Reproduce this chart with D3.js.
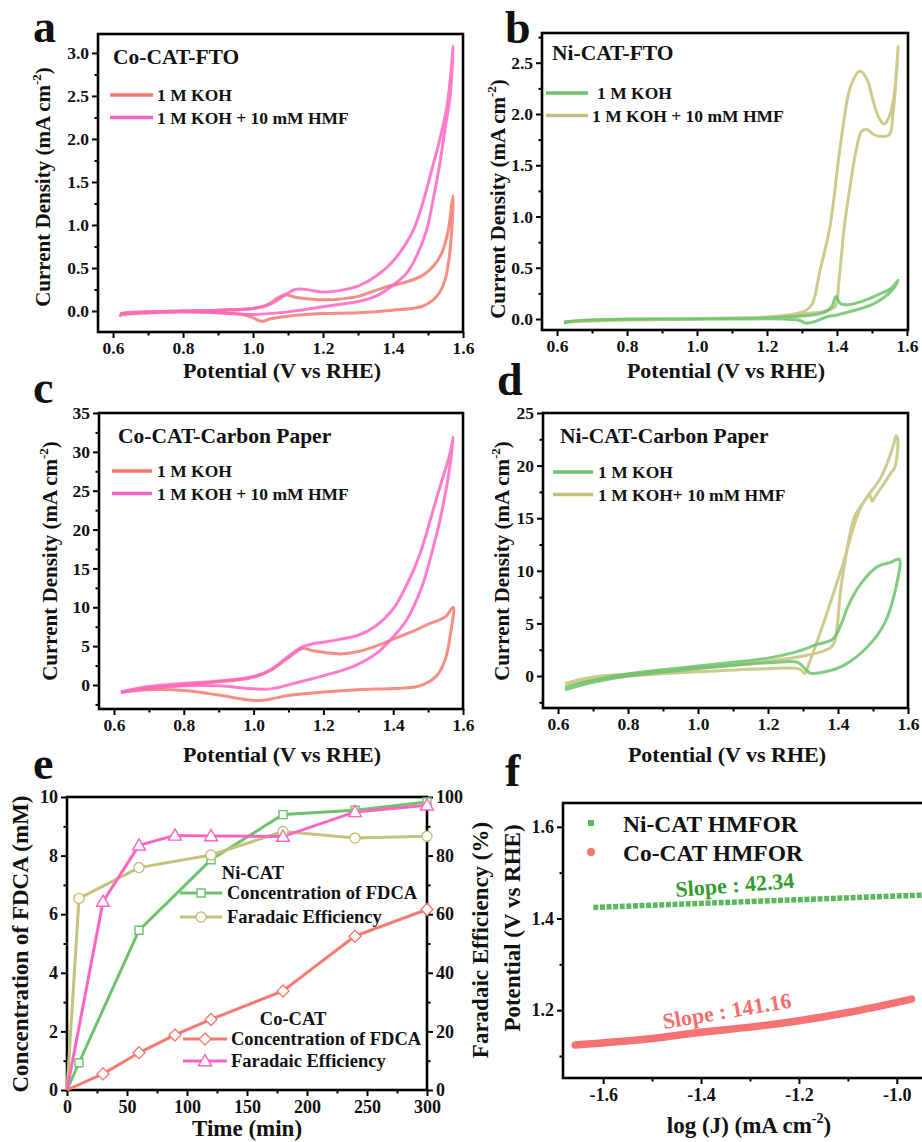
<!DOCTYPE html>
<html>
<head>
<meta charset="utf-8">
<script src="https://cdn.jsdelivr.net/npm/d3@7"></script>
<style>
  body { margin: 0; background: #fff; }
</style>
</head>
<body>
<svg id="fig" width="922" height="1142"></svg>
<script>
// ---- panel a: Co-CAT-FTO (V, mA cm-2) ----
const aKohFwd = [[0.62,-0.07],[0.625,-0.03],[0.7,-0.01],[0.8,0.0],[0.9,0.01],[1.0,0.03],[1.04,0.07],[1.07,0.15],[1.09,0.19],[1.12,0.16],[1.16,0.14],[1.2,0.13],[1.25,0.14],[1.3,0.17],[1.38,0.28],[1.44,0.34],[1.487,0.42],[1.515,0.52],[1.539,0.67],[1.558,0.94],[1.568,1.25],[1.572,1.34]];
const aKohRev = [[1.572,1.34],[1.568,0.95],[1.56,0.6],[1.55,0.38],[1.535,0.23],[1.515,0.13],[1.48,0.05],[1.4,0.01],[1.3,-0.02],[1.2,-0.03],[1.1,-0.06],[1.05,-0.09],[1.025,-0.12],[1.0,-0.08],[0.97,-0.04],[0.9,-0.02],[0.8,-0.01],[0.7,-0.02],[0.62,-0.04]];
const aHmfFwd = [[0.62,-0.04],[0.7,-0.01],[0.8,0.0],[0.9,0.01],[1.0,0.03],[1.05,0.08],[1.09,0.18],[1.12,0.25],[1.15,0.25],[1.2,0.22],[1.25,0.24],[1.3,0.29],[1.35,0.4],[1.4,0.58],[1.458,0.94],[1.516,1.72],[1.54,2.1],[1.555,2.4],[1.565,2.75],[1.572,3.08]];
const aHmfRev = [[1.572,3.08],[1.568,2.75],[1.563,2.49],[1.55,2.15],[1.534,1.72],[1.515,1.3],[1.496,0.94],[1.47,0.66],[1.439,0.44],[1.4,0.3],[1.35,0.17],[1.3,0.11],[1.2,0.05],[1.1,-0.01],[1.0,-0.04],[0.9,-0.02],[0.8,-0.01],[0.7,-0.02],[0.62,-0.03]];

// ---- panel b: Ni-CAT-FTO ----
const bKohFwd = [[0.62,-0.04],[0.65,-0.02],[0.8,0.0],[1.0,0.0],[1.2,0.01],[1.3,0.03],[1.36,0.06],[1.385,0.12],[1.397,0.22],[1.41,0.15],[1.43,0.14],[1.47,0.17],[1.52,0.24],[1.555,0.3],[1.575,0.38]];
const bKohRev = [[1.575,0.38],[1.56,0.29],[1.53,0.2],[1.5,0.14],[1.466,0.1],[1.4,0.04],[1.37,0.02],[1.34,-0.02],[1.313,-0.04],[1.29,-0.01],[1.25,0.0],[1.1,0.0],[0.9,0.0],[0.7,-0.01],[0.62,-0.03]];
const bHmfFwd = [[0.62,-0.03],[0.7,-0.01],[0.9,0.0],[1.1,0.01],[1.2,0.02],[1.28,0.05],[1.31,0.08],[1.33,0.15],[1.35,0.45],[1.38,0.9],[1.41,1.7],[1.44,2.28],[1.466,2.42],[1.487,2.33],[1.5,2.17],[1.52,1.96],[1.535,1.9],[1.55,1.98],[1.562,2.15],[1.575,2.66]];
const bHmfRev = [[1.575,2.66],[1.568,2.3],[1.56,2.0],[1.55,1.8],[1.53,1.78],[1.505,1.8],[1.485,1.85],[1.47,1.83],[1.455,1.65],[1.44,1.35],[1.42,0.87],[1.405,0.35],[1.395,0.12],[1.37,0.08],[1.3,0.05],[1.2,0.02],[1.0,0.0],[0.8,-0.01],[0.62,-0.03]];

// ---- panel c: Co-CAT-Carbon Paper ----
const cKohFwd = [[0.62,-1.0],[0.7,-0.4],[0.8,0.0],[0.9,0.4],[1.0,1.0],[1.05,1.9],[1.1,3.5],[1.14,4.7],[1.17,4.4],[1.2,4.2],[1.25,4.0],[1.3,4.3],[1.35,5.0],[1.4,5.9],[1.45,6.8],[1.5,7.8],[1.55,8.8],[1.572,10.0]];
const cKohRev = [[1.572,10.0],[1.565,6.8],[1.55,3.4],[1.53,1.5],[1.506,0.5],[1.47,-0.2],[1.4,-0.45],[1.3,-0.6],[1.2,-0.9],[1.1,-1.35],[1.05,-1.8],[1.02,-2.0],[0.98,-1.9],[0.9,-1.3],[0.8,-0.7],[0.7,-0.6],[0.62,-0.9]];
const cHmfFwd = [[0.62,-0.9],[0.7,-0.2],[0.8,0.2],[0.9,0.5],[1.0,1.1],[1.05,2.0],[1.1,3.7],[1.14,4.9],[1.17,5.3],[1.2,5.5],[1.25,5.9],[1.3,6.4],[1.35,7.6],[1.4,9.8],[1.44,13.0],[1.477,16.9],[1.506,21.2],[1.534,25.5],[1.563,29.8],[1.572,31.9]];
const cHmfRev = [[1.572,31.9],[1.565,29.0],[1.553,25.5],[1.534,21.2],[1.51,16.9],[1.482,12.6],[1.439,8.4],[1.4,6.2],[1.353,4.1],[1.286,2.4],[1.19,1.07],[1.115,0.2],[1.05,-0.5],[1.0,-0.5],[0.9,-0.1],[0.8,-0.1],[0.7,-0.5],[0.62,-0.9]];

// ---- panel d: Ni-CAT-Carbon Paper ----
const dKohFwd = [[0.62,-1.1],[0.7,-0.4],[0.8,0.2],[0.9,0.6],[1.0,0.95],[1.1,1.3],[1.2,1.7],[1.28,2.3],[1.34,3.0],[1.385,3.5],[1.41,5.0],[1.428,6.6],[1.466,8.8],[1.513,10.4],[1.55,10.8],[1.575,11.1]];
const dKohRev = [[1.575,11.1],[1.566,8.5],[1.533,5.0],[1.485,2.8],[1.418,1.04],[1.351,0.32],[1.32,0.28],[1.3,0.9],[1.285,1.3],[1.2,1.25],[1.0,0.7],[0.8,0.0],[0.7,-0.6],[0.62,-1.3]];
const dHmfFwd = [[0.62,-0.7],[0.7,-0.1],[0.8,0.2],[0.9,0.5],[1.0,0.8],[1.1,1.05],[1.2,1.4],[1.3,1.9],[1.36,2.4],[1.385,2.9],[1.41,8.8],[1.447,15.1],[1.475,16.6],[1.49,17.2],[1.498,16.6],[1.505,17.0],[1.53,18.2],[1.551,19.3],[1.562,19.8],[1.57,22.6]];
const dHmfRev = [[1.57,22.6],[1.565,22.8],[1.56,22.1],[1.523,18.9],[1.466,16.1],[1.409,10.1],[1.35,4.2],[1.315,1.0],[1.305,0.25],[1.29,0.65],[1.2,0.7],[1.0,0.4],[0.8,0.0],[0.7,-0.4],[0.62,-0.8]];

// ---- panel e: electrolysis vs time ----
const niTime = [0, 10, 60, 120, 180, 240, 300];
const niFDCA = [0, 0.93, 5.45, 7.86, 9.40, 9.55, 9.83];
const niFE   = [0, 65.4, 75.9, 80.2, 88.2, 86.0, 86.6];
const coTime = [0, 30, 60, 90, 120, 180, 240, 300];
const coFDCA = [0, 0.55, 1.27, 1.88, 2.41, 3.38, 5.25, 6.16];
const coFE   = [0, 64.3, 83.5, 86.9, 86.7, 86.5, 94.9, 97.2];

// ---- panel f: Tafel (log J, V) ----
const niTafel = [[-1.62,1.424],[-1.5,1.429],[-1.4,1.433],[-1.3,1.437],[-1.2,1.441],[-1.1,1.445],[-1.0,1.449],[-0.92,1.452]];
const coTafel = [[-1.657,1.124],[-1.5,1.138],[-1.4,1.152],[-1.3,1.163],[-1.2,1.177],[-1.1,1.195],[-1.03,1.21],[-0.97,1.224]];

const C_COKOH = '#f7796f', C_COHMF = '#ff64c3', C_NIKOH = '#6cc36c', C_NIHMF = '#c2c27a';
const SERIF = "'Liberation Serif', 'Times New Roman', Tinos, 'DejaVu Serif', serif";

const svg = d3.select('#fig');

function styleAxis(sel, fs) {
  sel.attr('font-family', null).attr('font-size', null);
  sel.select('.domain').remove();
  sel.selectAll('.tick line').attr('stroke', '#000').attr('stroke-width', 2);
  sel.selectAll('.tick text')
    .style('font-family', SERIF).style('font-weight', 'bold')
    .style('font-size', fs + 'px').attr('fill', '#111');
}

function addAxes(p) {
  const x = d3.scaleLinear().domain(p.xDom).range([p.l, p.r]);
  const y = d3.scaleLinear().domain(p.yDom).range([p.b, p.t]);
  const g = svg.append('g');
  g.append('g').attr('transform', `translate(0,${p.b})`)
    .call(d3.axisBottom(x).tickValues(p.xMin).tickSize(3.5).tickFormat(''))
    .call(s => styleAxis(s, p.fs));
  g.append('g').attr('transform', `translate(0,${p.b})`)
    .call(d3.axisBottom(x).tickValues(p.xMaj).tickSize(6).tickPadding(4).tickFormat(p.xFmt))
    .call(s => styleAxis(s, p.fs));
  g.append('g').attr('transform', `translate(${p.l},0)`)
    .call(d3.axisLeft(y).tickValues(p.yMin).tickSize(3.5).tickFormat(''))
    .call(s => styleAxis(s, p.fs));
  g.append('g').attr('transform', `translate(${p.l},0)`)
    .call(d3.axisLeft(y).tickValues(p.yMaj).tickSize(6).tickPadding(3).tickFormat(p.yFmt))
    .call(s => styleAxis(s, p.fs));
  g.append('rect').attr('x', p.l).attr('y', p.t)
    .attr('width', p.r - p.l).attr('height', p.b - p.t)
    .attr('fill', 'none').attr('stroke', '#000').attr('stroke-width', 2.6);
  return { x, y };
}

function txt(sel, fs) {
  return sel.style('font-family', SERIF).style('font-weight', 'bold')
    .style('font-size', fs + 'px').attr('fill', '#111');
}

function yTitle(x, y, fs, main, sup, tail) {
  const t = txt(svg.append('text')
    .attr('transform', `translate(${x},${y}) rotate(-90)`)
    .attr('text-anchor', 'middle'), fs);
  t.append('tspan').text(main);
  if (sup) {
    t.append('tspan').attr('dy', -fs * 0.45).style('font-size', (fs * 0.62) + 'px').text(sup);
    t.append('tspan').attr('dy', fs * 0.45).text(tail);
  }
  return t;
}

function label(x, y, s, fs, anchor) {
  return txt(svg.append('text').attr('x', x).attr('y', y)
    .attr('text-anchor', anchor || 'start'), fs).text(s);
}

const f1 = d => d.toFixed(1);
const f0 = d => d.toFixed(0);
const vMaj = [0.6, 0.8, 1.0, 1.2, 1.4, 1.6], vMin = [0.7, 0.9, 1.1, 1.3, 1.5];

function cvPanel(p) {
  const { x, y } = addAxes(Object.assign({ xDom: [0.557, 1.6], xMaj: vMaj, xMin: vMin, xFmt: f1, fs: 17.5 }, p));
  const line = d3.line().x(d => x(d[0])).y(d => y(d[1])).curve(d3.curveCatmullRom.alpha(0.5));
  p.curves.forEach(c => {
    svg.append('path').datum(c.fwd.concat(c.rev.slice(1)))
      .attr('d', line).attr('fill', 'none').attr('stroke', c.color)
      .attr('stroke-width', 3).attr('stroke-opacity', 0.85).attr('stroke-linejoin', 'round');
  });
  label(p.titleX, p.titleY, p.title, 21.5);
  p.legend.forEach((lg, i) => {
    const ly = p.legY + i * 22.5;
    svg.append('line').attr('x1', p.legX1).attr('x2', p.legX2).attr('y1', ly).attr('y2', ly)
      .attr('stroke', lg.color).attr('stroke-width', 3.5);
    label(lg.tx, ly + 6, lg.text, 17.5);
  });
  label(p.xtX, p.xtY, 'Potential (V vs RHE)', 22, 'middle');
  yTitle(p.ytX, p.ytY, 21, 'Current Density (mA cm', '-2', ')');
  label(p.letX, p.letY, p.letter, 46);
}

cvPanel({
  l: 98, r: 463, t: 34, b: 332, yDom: [-0.244, 3.22],
  yMaj: [0, 0.5, 1.0, 1.5, 2.0, 2.5, 3.0], yMin: [0.25, 0.75, 1.25, 1.75, 2.25, 2.75], yFmt: f1,
  curves: [{ fwd: aKohFwd, rev: aKohRev, color: C_COKOH }, { fwd: aHmfFwd, rev: aHmfRev, color: C_COHMF }],
  title: 'Co-CAT-FTO', titleX: 113, titleY: 64,
  legX1: 110, legX2: 153, legY: 95,
  legend: [{ text: '1 M KOH', color: C_COKOH, tx: 157 }, { text: '1 M KOH + 10 mM HMF', color: C_COHMF, tx: 157 }],
  xtX: 282, xtY: 378, ytX: 50, ytY: 187, letter: 'a', letX: 33, letY: 42
});

cvPanel({
  l: 542, r: 908, t: 33, b: 330, xDom: [0.557, 1.603], yDom: [-0.107, 2.79],
  yMaj: [0, 0.5, 1.0, 1.5, 2.0, 2.5], yMin: [0.25, 0.75, 1.25, 1.75, 2.25, 2.75], yFmt: f1,
  curves: [{ fwd: bHmfFwd, rev: bHmfRev, color: C_NIHMF }, { fwd: bKohFwd, rev: bKohRev, color: C_NIKOH }],
  title: 'Ni-CAT-FTO', titleX: 552, titleY: 60,
  legX1: 546, legX2: 588, legY: 93,
  legend: [{ text: '1 M KOH', color: C_NIKOH, tx: 597 }, { text: '1 M KOH + 10 mM HMF', color: C_NIHMF, tx: 592 }],
  xtX: 726, xtY: 378, ytX: 505, ytY: 199, letter: 'b', letX: 505, letY: 43
});

cvPanel({
  l: 99, r: 463, t: 413, b: 709, yDom: [-3.09, 35],
  yMaj: [0, 5, 10, 15, 20, 25, 30, 35], yMin: [-2.5, 2.5, 7.5, 12.5, 17.5, 22.5, 27.5, 32.5], yFmt: f0,
  curves: [{ fwd: cKohFwd, rev: cKohRev, color: C_COKOH }, { fwd: cHmfFwd, rev: cHmfRev, color: C_COHMF }],
  title: 'Co-CAT-Carbon Paper', titleX: 118, titleY: 443,
  legX1: 112, legX2: 152, legY: 471,
  legend: [{ text: '1 M KOH', color: C_COKOH, tx: 157 }, { text: '1 M KOH + 10 mM HMF', color: C_COHMF, tx: 157 }],
  xtX: 282, xtY: 762, ytX: 57, ytY: 561, letter: 'c', letX: 33, letY: 403
});

cvPanel({
  l: 543, r: 908, t: 413, b: 708, xDom: [0.557, 1.6], yDom: [-3.04, 25],
  yMaj: [0, 5, 10, 15, 20, 25], yMin: [-2.5, 2.5, 7.5, 12.5, 17.5, 22.5], yFmt: f0,
  curves: [{ fwd: dHmfFwd, rev: dHmfRev, color: C_NIHMF }, { fwd: dKohFwd, rev: dKohRev, color: C_NIKOH }],
  title: 'Ni-CAT-Carbon Paper', titleX: 560, titleY: 443,
  legX1: 553, legX2: 593, legY: 472,
  legend: [{ text: '1 M KOH', color: C_NIKOH, tx: 598 }, { text: '1 M KOH+ 10 mM HMF', color: C_NIHMF, tx: 598 }],
  xtX: 727, xtY: 762, ytX: 509, ytY: 561, letter: 'd', letX: 497, letY: 395
});

// ---- panel e ----
(function () {
  const p = { l: 67, r: 427, t: 797, b: 1090 };
  const { x, y } = addAxes(Object.assign({
    xDom: [0, 300], yDom: [0, 10], fs: 18,
    xMaj: [0, 50, 100, 150, 200, 250, 300], xMin: [25, 75, 125, 175, 225, 275], xFmt: f0,
    yMaj: [0, 2, 4, 6, 8, 10], yMin: [1, 3, 5, 7, 9], yFmt: f0
  }, p));
  const yR = d3.scaleLinear().domain([0, 100]).range([p.b, p.t]);
  svg.append('g').attr('transform', `translate(${p.r},0)`)
    .call(d3.axisRight(yR).tickValues([10, 30, 50, 70, 90]).tickSize(3.5).tickFormat(''))
    .call(s => styleAxis(s, 18));
  svg.append('g').attr('transform', `translate(${p.r},0)`)
    .call(d3.axisRight(yR).tickValues([0, 20, 40, 60, 80, 100]).tickSize(6).tickPadding(3).tickFormat(f0))
    .call(s => styleAxis(s, 18));

  const series = [
    { t: niTime, v: niFDCA, sy: y, color: C_NIKOH, sym: 'square' },
    { t: niTime, v: niFE, sy: yR, color: C_NIHMF, sym: 'circle' },
    { t: coTime, v: coFE, sy: yR, color: C_COHMF, sym: 'triangle' },
    { t: coTime, v: coFDCA, sy: y, color: C_COKOH, sym: 'diamond' }
  ];
  const symPath = {
    square: d3.symbol(d3.symbolSquare, 64)(),
    circle: d3.symbol(d3.symbolCircle, 80)(),
    triangle: d3.symbol(d3.symbolTriangle, 72)(),
    diamond: d3.symbol(d3.symbolSquare, 72)()
  };
  function marker(g, sym, cx, cy, color) {
    g.append('path').attr('d', symPath[sym])
      .attr('transform', `translate(${cx},${cy})` + (sym === 'diamond' ? ' rotate(45)' : '') + (sym === 'triangle' ? ' translate(0,1)' : ''))
      .attr('fill', '#fff').attr('stroke', color).attr('stroke-width', 1.4);
  }
  series.forEach(s => {
    const pts = s.t.map((t, i) => [t, s.v[i]]);
    svg.append('path').datum(pts)
      .attr('d', d3.line().x(d => x(d[0])).y(d => s.sy(d[1])))
      .attr('fill', 'none').attr('stroke', s.color).attr('stroke-width', 3);
  });
  series.forEach(s => {
    const g = svg.append('g');
    s.t.forEach((t, i) => { if (t > 0) marker(g, s.sym, x(t), s.sy(s.v[i]), s.color); });
  });

  // legends
  label(253, 879, 'Ni-CAT', 18.5, 'middle');
  const leg = [
    { y: 893, color: C_NIKOH, sym: 'square', text: 'Concentration of FDCA', x1: 180, x2: 222, tx: 227 },
    { y: 917, color: C_NIHMF, sym: 'circle', text: 'Faradaic Efficiency', x1: 180, x2: 222, tx: 227 },
    { y: 1039, color: C_COKOH, sym: 'diamond', text: 'Concentration of FDCA', x1: 183, x2: 227, tx: 231 },
    { y: 1061, color: C_COHMF, sym: 'triangle', text: 'Faradaic Efficiency', x1: 183, x2: 227, tx: 231 }
  ];
  const lg = svg.append('g');
  leg.forEach(d => {
    lg.append('line').attr('x1', d.x1).attr('x2', d.x2).attr('y1', d.y).attr('y2', d.y)
      .attr('stroke', d.color).attr('stroke-width', 3);
    marker(lg, d.sym, (d.x1 + d.x2) / 2, d.y, d.color);
    label(d.tx, d.y + 6, d.text, 18.5);
  });
  label(293, 1025, 'Co-CAT', 18.5, 'middle');

  label(247, 1136, 'Time (min)', 23, 'middle');
  yTitle(28, 944, 23, 'Concentration of FDCA (mM)');
  yTitle(488, 940, 23, 'Faradaic Efficiency (%)');
  label(33, 779, 'e', 46);
})();

// ---- panel f ----
(function () {
  const p = { l: 563, r: 935, t: 803, b: 1078 };
  const { x, y } = addAxes(Object.assign({
    xDom: [-1.682, -0.922], yDom: [1.052, 1.652], fs: 18,
    xMaj: [-1.6, -1.4, -1.2, -1.0], xMin: [-1.5, -1.3, -1.1], xFmt: f1,
    yMaj: [1.2, 1.4, 1.6], yMin: [1.1, 1.3, 1.5], yFmt: f1
  }, p));
  const line = d3.line().x(d => x(d[0])).y(d => y(d[1])).curve(d3.curveMonotoneX);
  svg.append('path').datum(niTafel).attr('d', line)
    .attr('fill', 'none').attr('stroke', '#5cb85c').attr('stroke-width', 5.5)
    .attr('stroke-dasharray', '5,1.6');
  svg.append('path').datum(coTafel).attr('d', line)
    .attr('fill', 'none').attr('stroke', '#f77272').attr('stroke-width', 7.5)
    .attr('stroke-linecap', 'round');

  svg.append('rect').attr('x', 588).attr('y', 820).attr('width', 6).attr('height', 6).attr('fill', '#5cb85c');
  svg.append('circle').attr('cx', 591).attr('cy', 852).attr('r', 4).attr('fill', '#f77272');
  label(623, 832, 'Ni-CAT HMFOR', 23.5);
  label(623, 861, 'Co-CAT HMFOR', 23.5);

  txt(svg.append('text').attr('transform', 'translate(676,897) rotate(-4.5)'), 22)
    .attr('fill', '#2f9d2f').text('Slope : 42.34');
  txt(svg.append('text').attr('transform', 'translate(664,1029) rotate(-9.5)'), 22)
    .attr('fill', '#f56e6e').text('Slope : 141.16');

  const t = txt(svg.append('text').attr('x', 749).attr('y', 1133).attr('text-anchor', 'middle'), 23);
  t.append('tspan').text('log (J) (mA cm');
  t.append('tspan').attr('dy', -10).style('font-size', '14px').text('-2');
  t.append('tspan').attr('dy', 10).text(')');
  yTitle(520, 928, 23, 'Potential (V vs RHE)');
  label(505, 786, 'f', 46);
})();
</script>
</body>
</html>
